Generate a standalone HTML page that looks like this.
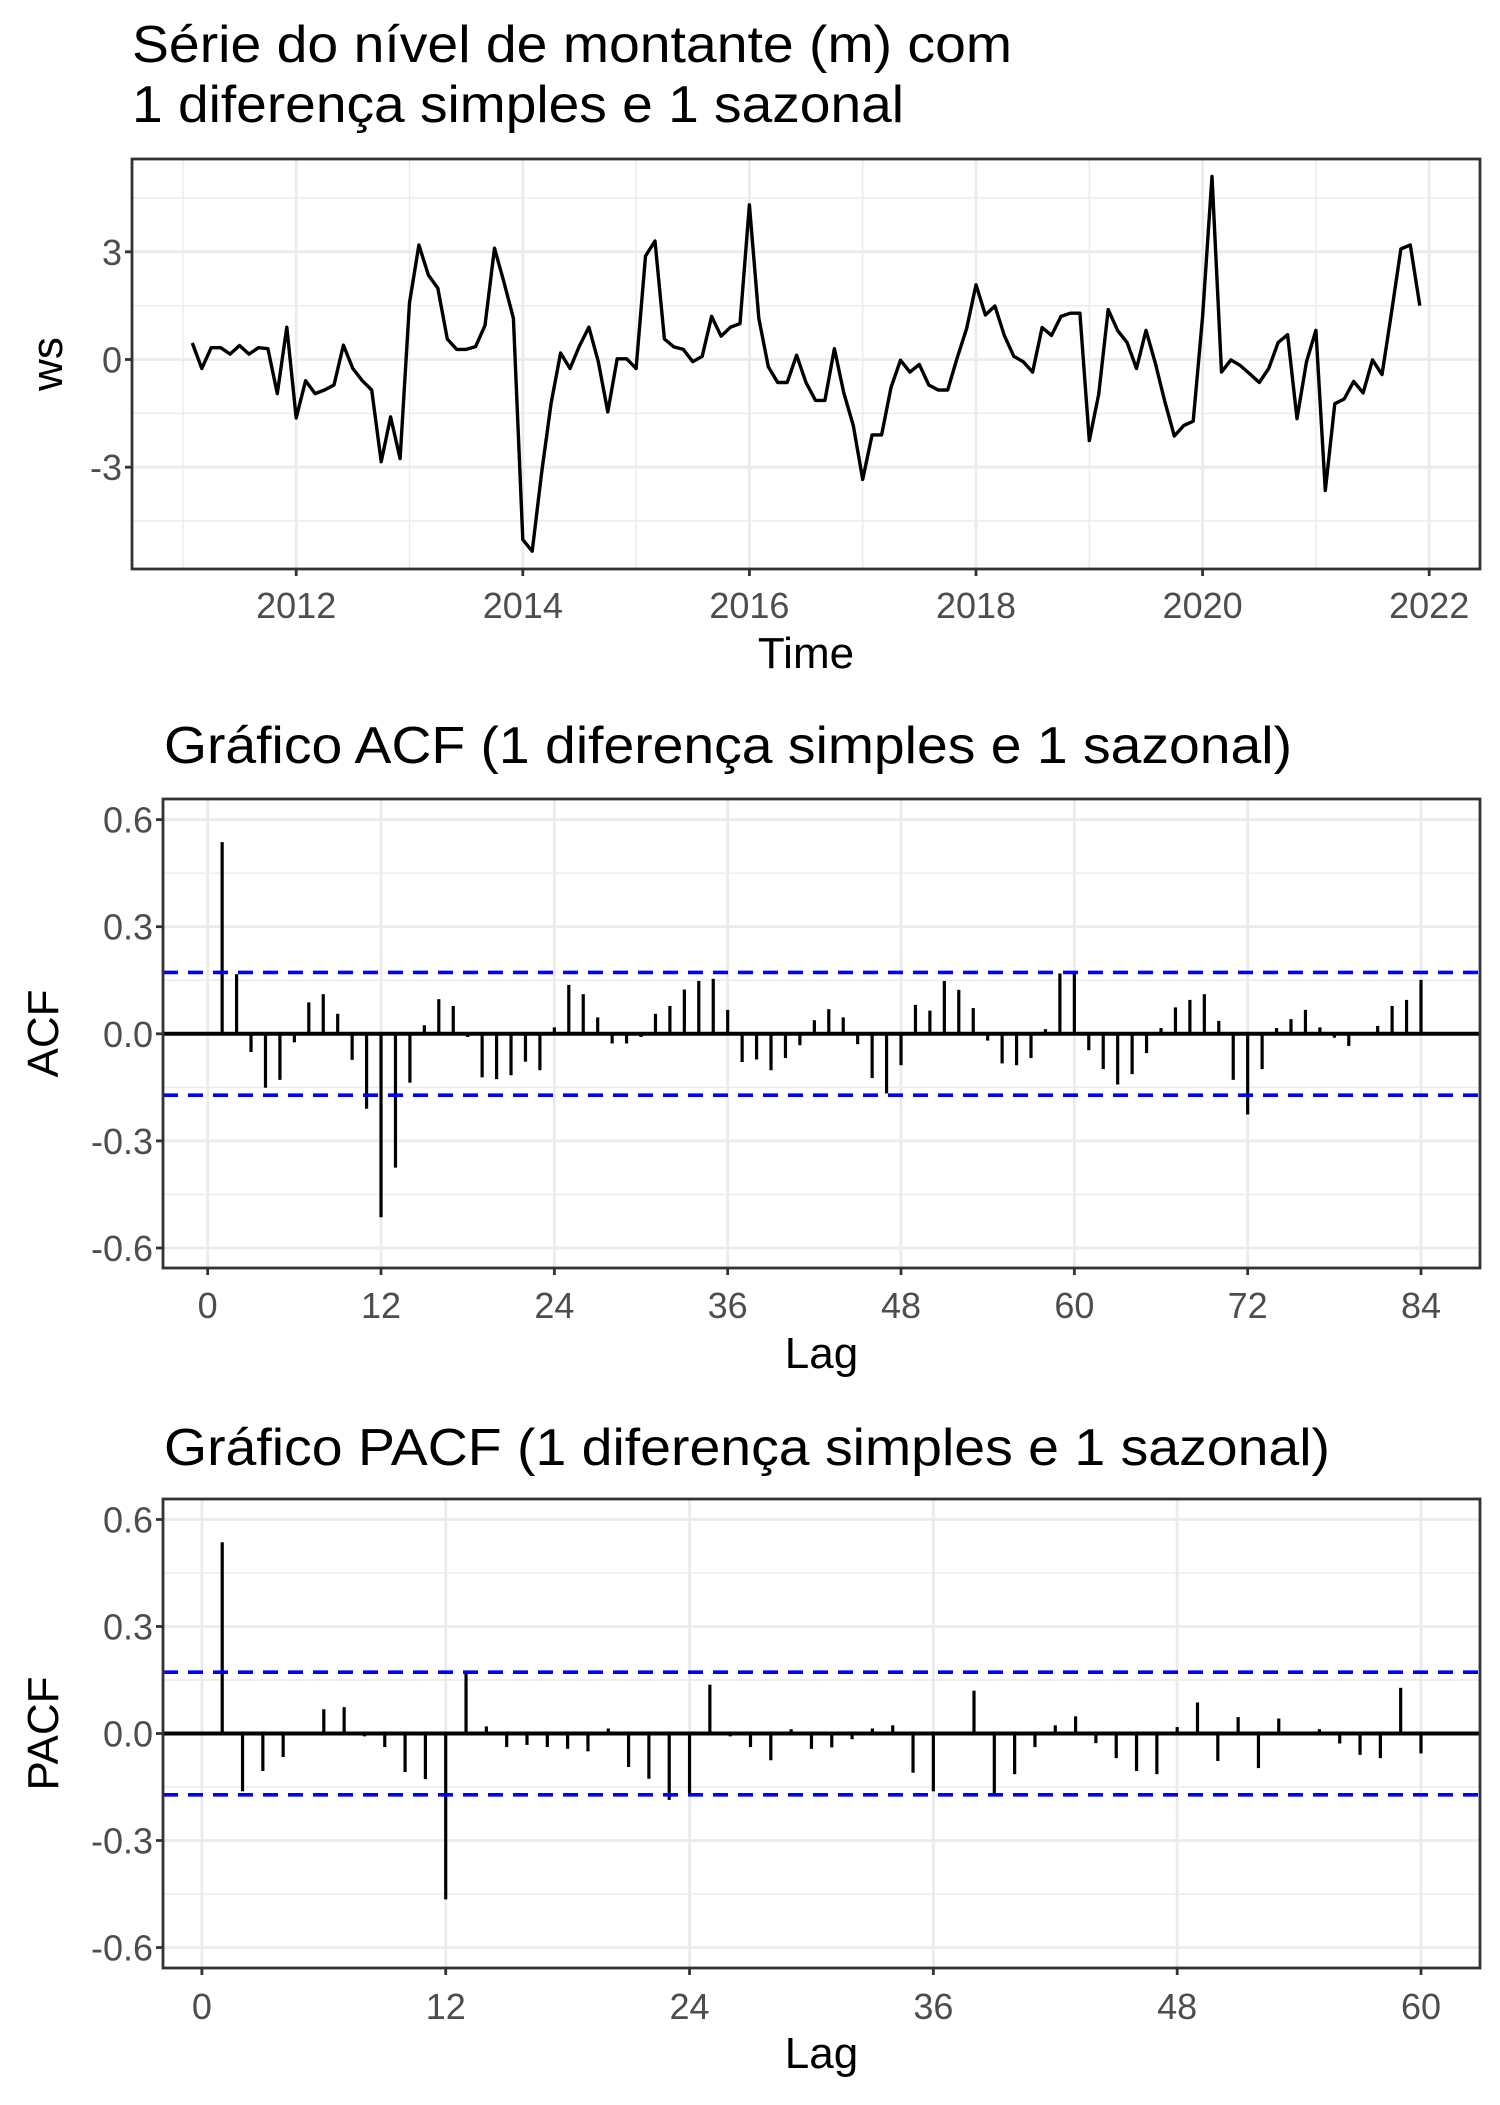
<!DOCTYPE html>
<html><head><meta charset="utf-8"><style>
html,body{margin:0;padding:0;background:#fff;}
svg text{font-family:"Liberation Sans",Arial,sans-serif;}
</style></head><body>
<svg id="c" width="1500" height="2100" viewBox="0 0 1500 2100" xmlns="http://www.w3.org/2000/svg"></svg>
<script>
// ---- data ----
const seriesStartYear = 2011, seriesStartMonth = 2;
const wsValues = [0.46,-0.25,0.33,0.33,0.15,0.39,0.15,0.33,0.3,-0.95,0.9,
-1.63,-0.59,-0.95,-0.85,-0.71,0.4,-0.25,-0.59,-0.85,-2.85,-1.6,-2.76,
1.58,3.19,2.35,1.99,0.57,0.28,0.28,0.36,0.95,3.1,2.16,1.15,
-5.02,-5.34,-3.14,-1.22,0.18,-0.25,0.38,0.9,-0.06,-1.46,0.02,0.02,
-0.25,2.88,3.3,0.57,0.35,0.28,-0.06,0.09,1.2,0.65,0.9,1.0,
4.31,1.15,-0.2,-0.64,-0.64,0.12,-0.64,-1.14,-1.14,0.3,-0.93,-1.84,
-3.34,-2.1,-2.1,-0.78,-0.02,-0.35,-0.14,-0.71,-0.85,-0.85,0.04,0.86,
2.08,1.24,1.49,0.67,0.09,-0.06,-0.35,0.89,0.67,1.2,1.29,1.29,
-2.26,-0.97,1.39,0.81,0.47,-0.25,0.81,-0.11,-1.17,-2.13,-1.84,-1.72,
1.2,5.1,-0.35,-0.01,-0.17,-0.4,-0.64,-0.25,0.47,0.69,-1.65,-0.06,
0.81,-3.65,-1.23,-1.1,-0.61,-0.93,-0.01,-0.42,1.29,3.08,3.19,1.5];
const wsTicks = [-3,0,3];
const yearTicks = [2012,2014,2016,2018,2020,2022];
const acfValues = [0.537,0.167,-0.051,-0.151,-0.129,-0.024,0.088,0.111,0.056,-0.073,-0.21,-0.514,
-0.375,-0.137,0.024,0.097,0.078,-0.009,-0.122,-0.127,-0.116,-0.078,-0.102,0.018,
0.137,0.111,0.046,-0.027,-0.027,-0.009,0.056,0.078,0.124,0.148,0.154,0.067,
-0.079,-0.072,-0.102,-0.068,-0.032,0.038,0.069,0.046,-0.029,-0.124,-0.167,-0.088,
0.081,0.065,0.148,0.123,0.072,-0.019,-0.083,-0.088,-0.068,0.013,0.169,0.169,
-0.046,-0.099,-0.142,-0.113,-0.054,0.016,0.074,0.095,0.111,0.036,-0.129,-0.226,
-0.099,0.016,0.041,0.067,0.018,-0.011,-0.034,-0.002,0.022,0.078,0.095,0.151];
const pacfValues = [0.536,-0.162,-0.105,-0.066,0.003,0.068,0.074,-0.008,-0.038,-0.108,-0.128,-0.465,
0.171,0.02,-0.038,-0.032,-0.038,-0.043,-0.05,0.014,-0.094,-0.127,-0.186,-0.169,
0.137,-0.008,-0.038,-0.075,0.012,-0.043,-0.039,-0.016,0.014,0.023,-0.11,-0.162,
0.003,0.12,-0.167,-0.114,-0.038,0.023,0.048,-0.027,-0.069,-0.105,-0.114,0.018,
0.087,-0.077,0.046,-0.097,0.042,0.002,0.012,-0.028,-0.06,-0.069,0.128,-0.056];
const confLimit = 0.172;
const corrTicks = [-0.6,-0.3,0.0,0.3,0.6];
const acfLagTicks = [0,12,24,36,48,60,72,84];
const pacfLagTicks = [0,12,24,36,48,60];

const NS="http://www.w3.org/2000/svg";
const svg=document.getElementById('c');
function mk(tag,attrs,parent){const e=document.createElementNS(NS,tag);for(const k in attrs)e.setAttribute(k,attrs[k]);(parent||svg).appendChild(e);return e;}
function txt(s,attrs,parent){const e=mk('text',attrs,parent);e.textContent=s;return e;}

function panel(cfg){
  const g=mk('g',{});
  
  
  const {L,R,T,B}=cfg;
  const X=cfg.x, Y=cfg.y;
  cfg.minorY.forEach(v=>{const l=mk('line',{x1:L,x2:R,y1:Y(v),y2:Y(v),stroke:'#ebebeb','stroke-width':1.4},g);
    });
  (cfg.minorX||[]).forEach(v=>{const l=mk('line',{x1:X(v),x2:X(v),y1:T,y2:B,stroke:'#ebebeb','stroke-width':1.4},g);
    });
  cfg.yTicks.forEach(v=>{const l=mk('line',{x1:L,x2:R,y1:Y(v),y2:Y(v),stroke:'#ebebeb','stroke-width':2.8},g);
    });
  cfg.xTicks.forEach(v=>{const l=mk('line',{x1:X(v),x2:X(v),y1:T,y2:B,stroke:'#ebebeb','stroke-width':2.8},g);
    });
  cfg.draw(g);
  const box=mk('rect',{x:L,y:T,width:R-L,height:B-T,fill:'none',stroke:'#333','stroke-width':2.8},g);
  
  cfg.yTicks.forEach(v=>{
    mk('line',{x1:L-7,x2:L,y1:Y(v),y2:Y(v),stroke:'#333','stroke-width':2.8},g);
    const t=txt(cfg.yFmt(v),{x:L-10,y:Y(v)+13,'text-anchor':'end','font-size':36,fill:'#4d4d4d'},g);
    
  });
  cfg.xTicks.forEach(v=>{
    mk('line',{x1:X(v),x2:X(v),y1:B,y2:B+7,stroke:'#333','stroke-width':2.8},g);
    const t=txt(String(v),{x:X(v),y:cfg.xLabY,'text-anchor':'middle','font-size':36,fill:'#4d4d4d'},g);
    
  });
  const xt=txt(cfg.xTitle,{x:(L+R)/2,y:cfg.xTitleY,'text-anchor':'middle','font-size':44,fill:'#000'},g);
  
  const cy=(T+B)/2;
  const yt=txt(cfg.yTitle,{x:0,y:0,'text-anchor':'middle','font-size':44,fill:'#000',transform:`translate(${cfg.yTitleX},${cy}) rotate(-90)`},g);
  
  return g;
}

let t;
t=txt('Série do nível de montante (m) com',{x:132,y:62,'font-size':52,textLength:880,lengthAdjust:'spacingAndGlyphs'});

t=txt('1 diferença simples e 1 sazonal',{x:132,y:122,'font-size':52,textLength:772,lengthAdjust:'spacingAndGlyphs'});

t=txt('Gráfico ACF (1 diferença simples e 1 sazonal)',{x:164,y:763,'font-size':52,textLength:1128,lengthAdjust:'spacingAndGlyphs'});

t=txt('Gráfico PACF (1 diferença simples e 1 sazonal)',{x:164,y:1465,'font-size':52,textLength:1166,lengthAdjust:'spacingAndGlyphs'});


{
  const L=132,R=1480,T=159,B=569;
  const x=v=>296.2+(v-2012)*113.3;
  const y=v=>359.5-v*35.9;
  panel({name:'time-series-panel',L,R,T,B,x,y,yTicks:wsTicks,xTicks:yearTicks,
    minorY:[-4.5,-1.5,1.5,4.5],minorX:[2011,2013,2015,2017,2019,2021],
    yFmt:v=>String(v),xLabY:618,xTitle:'Time',xTitleY:668,yTitle:'ws',yTitleX:62,
    draw:g=>{
      const pts=wsValues.map((v,i)=>{const tt=seriesStartYear+(seriesStartMonth-1+i)/12;return x(tt).toFixed(1)+','+y(v).toFixed(1);});
      const p=mk('polyline',{points:pts.join(' '),fill:'none',stroke:'#000','stroke-width':3.4,'stroke-linejoin':'round'},g);
      
    }});
}

function corrPanel(name,vals,lagTicks,L,R,T,B,x0,xMaxLag,xMaxPx,y0,yScale,xLabY,xTitleY,yTitle){
  const x=v=>x0+v*(xMaxPx-x0)/xMaxLag;
  const y=v=>y0-v*yScale;
  panel({name,L,R,T,B,x,y,yTicks:corrTicks,xTicks:lagTicks,minorY:[-0.45,-0.15,0.15,0.45],
    yFmt:v=>v.toFixed(1),xLabY,xTitle:'Lag',xTitleY,yTitle,yTitleX:58,
    draw:g=>{
      vals.forEach((v,i)=>{const lag=i+1;
        const b=mk('line',{x1:x(lag),x2:x(lag),y1:y(0),y2:y(v),stroke:'#000','stroke-width':3.2},g);
        });
      const z=mk('line',{x1:L,x2:R,y1:y(0),y2:y(0),stroke:'#000','stroke-width':4},g);
      
      [confLimit,-confLimit].forEach(c=>{
        const d=mk('line',{x1:L,x2:R,y1:y(c),y2:y(c),stroke:'#0000ff','stroke-width':3.6,'stroke-dasharray':'15 10'},g);
        });
    }});
}
corrPanel('acf-panel',acfValues,acfLagTicks,163,1480,799,1268,207.7,84,1421,1033.8,357,1318,1368,'ACF');
corrPanel('pacf-panel',pacfValues,pacfLagTicks,163,1480,1499,1968,201.9,60,1421,1733.5,356.7,2019,2068,'PACF');
</script>
</body></html>
